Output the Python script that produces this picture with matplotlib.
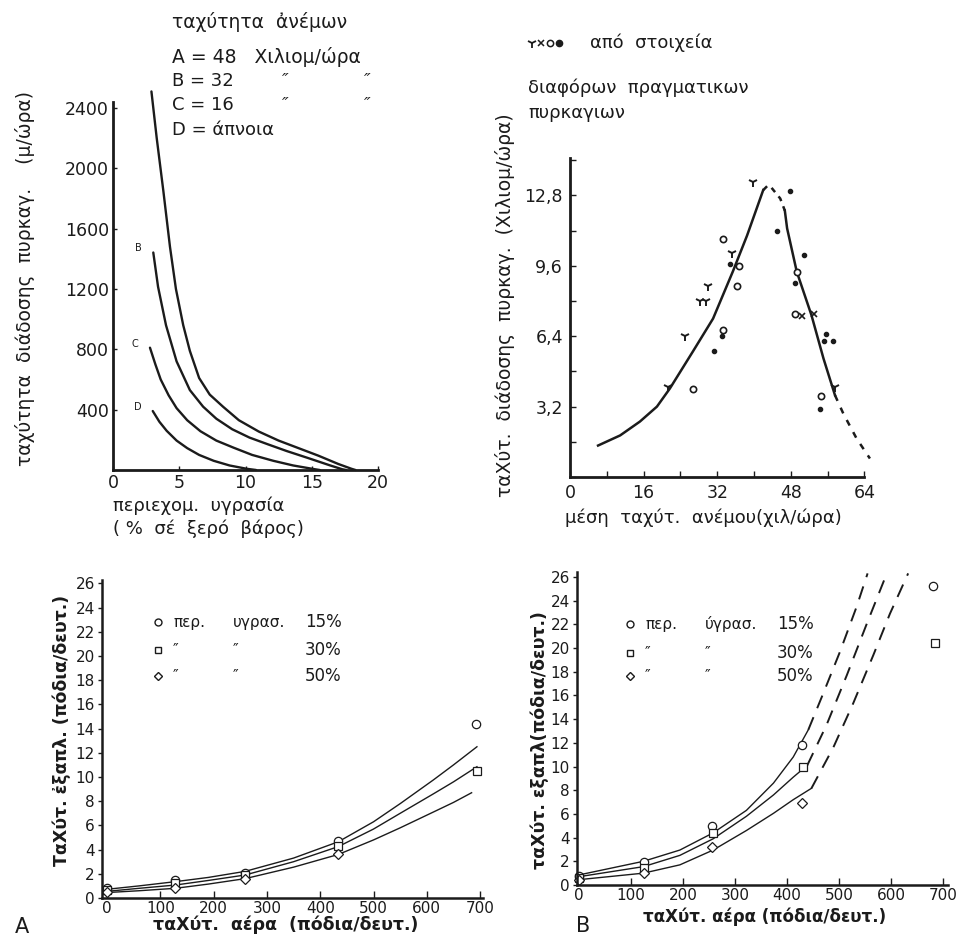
import matplotlib
matplotlib.use("Agg")
import matplotlib.pyplot as plt
from matplotlib.ticker import FuncFormatter, MultipleLocator, FixedLocator

W, H = 963, 939
INK = '#1b1b1b'

plt.rcParams['font.family'] = ['DejaVu Sans']
plt.rcParams['text.color'] = INK

# --- top left: spread rate (m/h) vs moisture content, wind A-D
moist_a = [2.9, 3.3, 3.8, 4.3, 4.75, 5.3, 5.8, 6.5, 7.3, 8.3, 9.5, 11, 12.5, 14, 15.5, 17, 18, 18.3]
rate_a = [2510, 2200, 1850, 1480, 1200, 960, 790, 610, 500, 420, 330, 255, 195, 145, 95, 40, 8, 0]
moist_b = [3.04, 3.4, 4.0, 4.8, 5.8, 6.8, 7.8, 9.0, 10.3, 11.7, 13.1, 14.7, 16.4, 17.3, 17.6]
rate_b = [1442, 1215, 960, 720, 530, 420, 340, 270, 215, 170, 126, 80, 30, 5, 0]
moist_c = [2.79, 3.2, 3.6, 4.2, 4.8, 5.6, 6.6, 7.8, 9.1, 10.5, 12.1, 13.6, 15.1, 15.6]
rate_c = [811, 700, 600, 495, 410, 330, 257, 195, 148, 100, 61, 30, 7, 0]
moist_d = [3.0, 3.5, 4.05, 4.8, 5.6, 6.5, 7.6, 8.8, 10.1, 10.8]
rate_d = [391, 320, 260, 195, 145, 100, 61, 30, 8, 0]

# --- top right: spread rate (km/h) vs mean wind speed
rise_x = [6.1, 10.9, 15.2, 18.9, 21.7, 26.7, 31.1, 35.4, 38.5, 42.0]
rise_y = [1.43, 1.89, 2.52, 3.20, 4.02, 5.70, 7.20, 9.34, 10.98, 13.04]
peak_x = [42.0, 43.0, 43.8, 45.7, 46.7]
peak_y = [13.04, 13.25, 13.15, 12.66, 12.11]
fall_x = [46.7, 47.2, 49.3, 52.5, 55.1, 57.6]
fall_y = [12.11, 11.30, 9.33, 7.35, 5.39, 3.72]
tail_x = [57.6, 59.4, 62.3, 65.2]
tail_y = [3.72, 2.89, 1.75, 0.84]

gamma_x = [39.8, 35.2, 30.0, 28.3, 29.6, 25.0, 21.3, 57.6]
gamma_y = [13.4, 10.2, 8.7, 8.0, 8.0, 6.4, 4.1, 4.1]
open_x = [33.3, 36.7, 36.3, 26.7, 49.3, 48.9, 33.3, 54.6]
open_y = [10.8, 9.6, 8.7, 4.0, 9.3, 7.4, 6.7, 3.7]
dot_x = [34.8, 33.0, 31.3, 45.0, 50.9, 47.8, 48.9, 55.7, 55.2, 57.2, 54.3]
dot_y = [9.7, 6.4, 5.75, 11.2, 10.1, 13.0, 8.8, 6.5, 6.2, 6.2, 3.1]
cross_x = [50.4, 53.0]
cross_y = [7.3, 7.4]

# --- bottom left (A): flame spread vs air speed
air_a = [0, 60, 128, 190, 259, 350, 434, 500, 550, 612, 650, 694]
a15 = [0.72, 1.0, 1.35, 1.7, 2.2, 3.3, 4.65, 6.3, 7.8, 9.75, 11.0, 12.5]
a30 = [0.55, 0.8, 1.07, 1.45, 1.9, 3.0, 4.25, 5.7, 7.0, 8.6, 9.6, 10.85]
air_a50 = [0, 60, 128, 190, 259, 350, 434, 500, 550, 612, 650, 684]
a50 = [0.45, 0.6, 0.8, 1.15, 1.6, 2.55, 3.6, 4.8, 5.8, 7.1, 7.9, 8.7]
pts_a15_x = [0, 128, 259, 434, 692]
pts_a15_y = [0.8, 1.5, 2.1, 4.7, 14.4]
pts_a30_x = [0, 128, 259, 434, 694]
pts_a30_y = [0.7, 1.2, 1.9, 4.3, 10.5]
pts_a50_x = [0, 128, 259, 434]
pts_a50_y = [0.5, 0.8, 1.6, 3.6]

# --- bottom right (B)
b15_x = [0, 124, 194, 258, 322, 374, 412, 441]
b15_y = [0.85, 2.0, 2.95, 4.4, 6.3, 8.6, 10.8, 13.1]
b15_dx = [441, 470, 502, 534, 555]
b15_dy = [13.1, 16.2, 19.7, 23.5, 26.3]
b30_x = [0, 124, 194, 258, 322, 374, 412, 439]
b30_y = [0.7, 1.55, 2.5, 3.9, 5.8, 7.6, 9.1, 10.1]
b30_dx = [439, 476, 515, 553, 592]
b30_dy = [10.1, 13.5, 17.7, 22.0, 26.3]
b50_x = [0, 124, 194, 258, 322, 374, 412, 447]
b50_y = [0.45, 1.0, 1.7, 2.95, 4.6, 6.05, 7.2, 8.16]
b50_dx = [447, 489, 527, 566, 598, 633]
b50_dy = [8.16, 11.6, 15.3, 19.4, 22.9, 26.3]
pts_b15_x = [0, 125, 255, 428, 681]
pts_b15_y = [0.75, 1.9, 5.0, 11.8, 25.2]
pts_b30_x = [0, 125, 258, 431, 685]
pts_b30_y = [0.6, 1.4, 4.4, 10.0, 20.4]
pts_b50_x = [0, 125, 255, 428]
pts_b50_y = [0.45, 1.0, 3.2, 6.9]


def px_axes(fig, x_left, x_right, y_top, y_bottom):
    return fig.add_axes([x_left / W, 1 - y_bottom / H,
                         (x_right - x_left) / W, (y_bottom - y_top) / H])


def style(ax, lw):
    for s in ['top', 'right']:
        ax.spines[s].set_visible(False)
    for s in ['left', 'bottom']:
        ax.spines[s].set_linewidth(lw)
        ax.spines[s].set_color(INK)
    ax.patch.set_visible(False)


comma = FuncFormatter(lambda v, p: f"{v:.1f}".replace('.', ','))

fig = plt.figure(figsize=(W / 100, H / 100), dpi=100)

# overlay for free text, pixel coordinates
ov = fig.add_axes([0, 0, 1, 1])
ov.set_xlim(0, W)
ov.set_ylim(H, 0)
ov.axis('off')

# ---------------- top left
ax1 = px_axes(fig, 113, 378, 102, 470)
style(ax1, 2.0)
ax1.set_xlim(0, 20)
ax1.set_ylim(0, 2440)
for mx, ry in [(moist_a, rate_a), (moist_b, rate_b), (moist_c, rate_c), (moist_d, rate_d)]:
    ax1.plot(mx, ry, color=INK, lw=1.7, solid_capstyle='round', clip_on=False)
ax1.set_xticks([0, 5, 10, 15, 20])
ax1.set_yticks([400, 800, 1200, 1600, 2000, 2400])
ax1.tick_params(direction='in', length=3, width=1, labelsize=12.5, colors=INK, pad=3)
for lab, mx, ry in [('A', moist_a, rate_a), ('B', moist_b, rate_b),
                    ('C', moist_c, rate_c), ('D', moist_d, rate_d)]:
    ax1.annotate(lab, (mx[0], ry[0]), xytext=(-11, 3), textcoords='offset points',
                 fontsize=7, ha='center', va='center')

ov.text(172, 22, 'ταχύτητα  ἀνέμων', fontsize=13.5, va='center')
ov.text(172, 57, 'A = 48   Χιλιομ/ώρα', fontsize=13.5, va='center')
ov.text(172, 81, 'B = 32', fontsize=13, va='center')
ov.text(172, 105, 'C = 16', fontsize=13, va='center')
ov.text(172, 130, 'D = άπνοια', fontsize=13, va='center')
for yy in (81, 105):
    ov.text(282, yy, '″', fontsize=13, va='center', style='italic')
    ov.text(364, yy, '″', fontsize=13, va='center', style='italic')
ov.text(25, 278, 'ταχύτητα  διάδοσης  πυρκαγ.    (μ/ώρα)', fontsize=13.5,
        rotation=90, ha='center', va='center')
ov.text(113, 506, 'περιεχομ.  υγρασία', fontsize=13, va='center')
ov.text(113, 529, '( %  σέ  ξερό  βάρος)', fontsize=13, va='center')

# ---------------- top right
ax2 = px_axes(fig, 570, 864.4, 158, 477)
style(ax2, 2.0)
ax2.set_xlim(0, 64)
ax2.set_ylim(0, 14.5)
ax2.plot(rise_x, rise_y, color=INK, lw=1.8)
ax2.plot(fall_x, fall_y, color=INK, lw=1.8)
ax2.plot(peak_x, peak_y, color=INK, lw=1.8, ls=(0, (2.2, 2.2)))
ax2.plot(tail_x, tail_y, color=INK, lw=1.8, ls=(0, (2.5, 3)), clip_on=False)
ax2.plot(gamma_x, gamma_y, ls='none', marker='1', ms=7, mew=1.4, color=INK)
ax2.plot(open_x, open_y, ls='none', marker='o', ms=4.5, mew=1.2, mfc='white', mec=INK)
ax2.plot(dot_x, dot_y, ls='none', marker='o', ms=3, color=INK)
ax2.plot(cross_x, cross_y, ls='none', marker='x', ms=4, mew=1.2, color=INK)
ax2.yaxis.set_major_locator(FixedLocator([3.2, 6.4, 9.6, 12.8]))
ax2.yaxis.set_minor_locator(MultipleLocator(1.6))
ax2.yaxis.set_major_formatter(comma)
ax2.xaxis.set_major_locator(FixedLocator([0, 16, 32, 48, 64]))
ax2.xaxis.set_minor_locator(MultipleLocator(8))
ax2.tick_params(which='both', direction='in', length=4, width=1, labelsize=12.5,
                colors=INK, pad=5)

for i, (m, kw) in enumerate([('1', dict(ms=6.5, mew=1.3, color=INK)),
                             ('x', dict(ms=4.5, mew=1.1, color=INK)),
                             ('o', dict(ms=4.5, mew=1.1, mfc='white', mec=INK)),
                             ('o', dict(ms=4.5, color=INK))]):
    ov.plot([532 + 9 * i], [43], ls='none', marker=m, **kw)
ov.text(590, 43, 'από  στοιχεία', fontsize=13, va='center')
ov.text(528, 88, 'διαφόρων  πραγματικων', fontsize=13, va='center')
ov.text(528, 113, 'πυρκαγιων', fontsize=13, va='center')
ov.text(505, 305, 'ταΧύτ.  διάδοσης  πυρκαγ.  (Χιλιομ/ώρα)', fontsize=13.5,
        rotation=90, ha='center', va='center')
ov.text(565, 518, 'μέση  ταχύτ.  ανέμου(χιλ/ώρα)', fontsize=13, va='center')

# ---------------- bottom left (A)
ax3 = px_axes(fig, 101.7, 482.8, 579.8, 898)
style(ax3, 1.8)
ax3.set_xlim(-10, 705)
ax3.set_ylim(0, 26.3)
ax3.plot(air_a, a15, color=INK, lw=1.0)
ax3.plot(air_a, a30, color=INK, lw=1.0)
ax3.plot(air_a50, a50, color=INK, lw=1.0)
ax3.plot(pts_a15_x, pts_a15_y, ls='none', marker='o', ms=6, mew=0.9, mfc='white', mec=INK, clip_on=False)
ax3.plot(pts_a30_x, pts_a30_y, ls='none', marker='s', ms=6, mew=0.9, mfc='white', mec=INK, clip_on=False)
ax3.plot(pts_a50_x, pts_a50_y, ls='none', marker='D', ms=5.5, mew=0.9, mfc='white', mec=INK, clip_on=False)
ax3.set_xticks(range(0, 701, 100))
ax3.set_yticks(range(0, 27, 2))
ax3.tick_params(axis='x', direction='in', length=5, width=1, labelsize=11, colors=INK, pad=2)
ax3.tick_params(axis='y', direction='out', length=3, width=1, labelsize=11, colors=INK, pad=2)

ov.text(62, 730, 'ΤαΧύτ. ἐξαπλ. (πόδια/δευτ.)', fontsize=12.5, fontweight='bold',
        rotation=90, ha='center', va='center')
ov.text(153, 925, 'ταΧύτ.  αέρα  (πόδια/δευτ.)', fontsize=12.5, fontweight='bold', va='center')
ov.text(22, 927, 'A', fontsize=15, ha='center', va='center')

# ---------------- bottom right (B)
ax4 = px_axes(fig, 576.9, 948.2, 572.2, 885)
style(ax4, 1.8)
ax4.set_xlim(-4, 710)
ax4.set_ylim(0, 26.4)
for sx, sy, dx, dy in [(b15_x, b15_y, b15_dx, b15_dy),
                       (b30_x, b30_y, b30_dx, b30_dy),
                       (b50_x, b50_y, b50_dx, b50_dy)]:
    ax4.plot(sx, sy, color=INK, lw=1.0)
    ax4.plot(dx, dy, color=INK, lw=1.4, ls=(0, (7, 5)))
ax4.plot(pts_b15_x, pts_b15_y, ls='none', marker='o', ms=6, mew=0.9, mfc='white', mec=INK, clip_on=False)
ax4.plot(pts_b30_x, pts_b30_y, ls='none', marker='s', ms=6, mew=0.9, mfc='white', mec=INK, clip_on=False)
ax4.plot(pts_b50_x, pts_b50_y, ls='none', marker='D', ms=5.5, mew=0.9, mfc='white', mec=INK, clip_on=False)
ax4.set_xticks(range(0, 701, 100))
ax4.set_yticks(range(0, 27, 2))
ax4.tick_params(axis='x', direction='in', length=5, width=1, labelsize=11, colors=INK, pad=2)
ax4.tick_params(axis='y', direction='out', length=3, width=1, labelsize=11, colors=INK, pad=2)

ov.text(540, 740, 'ταΧύτ. εξαπλ(πόδια/δευτ.)', fontsize=12.5, fontweight='bold',
        rotation=90, ha='center', va='center')
ov.text(643, 917, 'ταΧύτ. αέρα (πόδια/δευτ.)', fontsize=12, fontweight='bold', va='center')
ov.text(583, 926, 'B', fontsize=15, ha='center', va='center')

# legends of the two lower panels
for x0, rows in [(155, [(622, 'o', 'περ.', 'υγρασ.', '15%'),
                        (650, 's', '″', '″', '30%'),
                        (676, 'D', '″', '″', '50%')]),
                 (627, [(624, 'o', 'περ.', 'ύγρασ.', '15%'),
                        (653, 's', '″', '″', '30%'),
                        (676, 'D', '″', '″', '50%')])]:
    for yy, m, w1, w2, pct in rows:
        ov.plot([x0 + 3], [yy], ls='none', marker=m, ms=5 if m != 'D' else 4.5, mew=1,
                mfc='white', mec=INK)
        ov.text(x0 + 18, yy, w1, fontsize=11, va='center')
        ov.text(x0 + 78, yy, w2, fontsize=11, va='center')
        ov.text(x0 + 150, yy, pct, fontsize=12, va='center')

fig.savefig('out.png', dpi=100, facecolor='white')
